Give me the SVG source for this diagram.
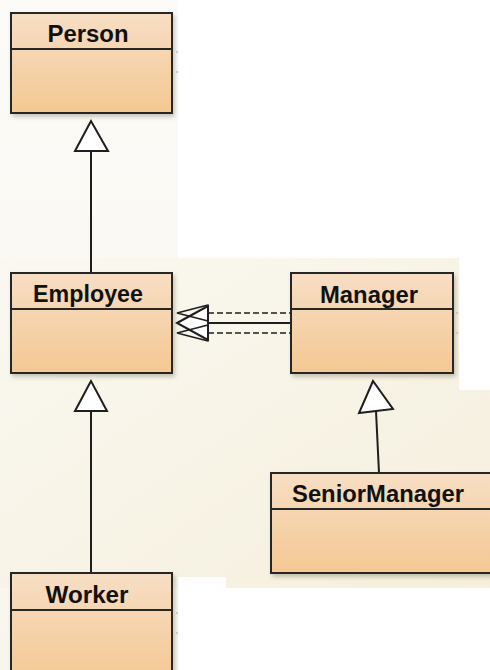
<svg xmlns="http://www.w3.org/2000/svg" width="490" height="670" viewBox="0 0 490 670">
  <defs>
    <linearGradient id="boxFill" x1="0" y1="0" x2="0" y2="1">
      <stop offset="0" stop-color="#f7dec4"/>
      <stop offset="1" stop-color="#f4c893"/>
    </linearGradient>
    <linearGradient id="paneFill" x1="0" y1="0" x2="1" y2="1">
      <stop offset="0" stop-color="#faf8f1"/>
      <stop offset="1" stop-color="#f5efdc"/>
    </linearGradient>
    <linearGradient id="colFill" x1="0" y1="0" x2="0" y2="1">
      <stop offset="0" stop-color="#fcfbf8"/>
      <stop offset="1" stop-color="#f8f6ec"/>
    </linearGradient>
    <filter id="shadow" x="-10%" y="-10%" width="125%" height="130%">
      <feDropShadow dx="2" dy="3" stdDeviation="2.2" flood-color="#6b6250" flood-opacity="0.35"/>
    </filter>
  </defs>
  <style>
    .box { fill: url(#boxFill); stroke: #262626; stroke-width: 2; }
    .sep { stroke: #262626; stroke-width: 1.8; }
    .name { font-family: "Liberation Sans", Arial, sans-serif; font-weight: bold; font-size: 23.5px; fill: #111; text-anchor: middle; }
    .link { fill: none; stroke: #1e1e1e; stroke-width: 2; }
    .dash { fill: none; stroke: #1e1e1e; stroke-width: 1.6; stroke-dasharray: 6 3; }
    .head { fill: #ffffff; stroke: #1e1e1e; stroke-width: 2; stroke-linejoin: miter; }
    .openhead { fill: none; stroke: #1e1e1e; stroke-width: 1.6; }
    .tick { fill: #b9b9b9; }
  </style>

  <!-- canvas panes -->
  <rect x="0" y="0" width="490" height="670" fill="#ffffff"/>
  <rect x="0" y="0" width="178" height="670" fill="url(#colFill)"/>
  <path d="M0 258 H459 V390 H490 V588 H226 V577 H178 V588 H0 Z" fill="url(#paneFill)"/>

  <!-- connectors -->
  <g id="connectors">
    <!-- Employee generalizes Person -->
    <line class="link" x1="91" y1="151" x2="91" y2="273"/>
    <polygon class="head" points="91,121 75,151 108,151"/>
    <!-- Worker generalizes Employee -->
    <line class="link" x1="91" y1="411" x2="91" y2="573"/>
    <polygon class="head" points="91,381 75,411 107,411"/>
    <!-- SeniorManager generalizes Manager -->
    <line class="link" x1="376" y1="411" x2="379" y2="473"/>
    <polygon class="head" points="373,381 359,413 393,409"/>
    <!-- Manager to Employee -->
    <line class="dash" x1="208" y1="313" x2="291" y2="313"/>
    <line class="link" x1="208" y1="323" x2="291" y2="323"/>
    <line class="dash" x1="208" y1="333" x2="291" y2="333"/>
    <polygon class="head" points="177,323 208,306 208,340"/>
    <polyline class="openhead" points="208,305 177,313 208,321"/>
    <polyline class="openhead" points="208,325 177,333 208,341"/>
  </g>

  <!-- classes -->
  <g id="person">
    <rect class="box" x="11" y="13" width="161" height="100" filter="url(#shadow)"/>
    <line class="sep" x1="11" y1="49" x2="172" y2="49"/>
    <text class="name" x="88" y="42" textLength="81" lengthAdjust="spacingAndGlyphs">Person</text>
    <circle class="tick" cx="177" cy="52" r="0.9"/>
    <circle class="tick" cx="177" cy="72" r="0.9"/>
  </g>

  <g id="employee">
    <rect class="box" x="11" y="273" width="161" height="100" filter="url(#shadow)"/>
    <line class="sep" x1="11" y1="309" x2="172" y2="309"/>
    <text class="name" x="88" y="302" textLength="110" lengthAdjust="spacingAndGlyphs">Employee</text>
  </g>

  <g id="manager">
    <rect class="box" x="291" y="273" width="162" height="100" filter="url(#shadow)"/>
    <line class="sep" x1="291" y1="309" x2="453" y2="309"/>
    <text class="name" x="369" y="303" textLength="98" lengthAdjust="spacingAndGlyphs">Manager</text>
    <circle class="tick" cx="457" cy="313" r="0.9"/>
    <circle class="tick" cx="457" cy="333" r="0.9"/>
  </g>

  <g id="seniormanager">
    <rect class="box" x="271" y="473" width="222" height="100" filter="url(#shadow)"/>
    <line class="sep" x1="271" y1="509" x2="493" y2="509"/>
    <text class="name" x="378" y="502" textLength="172" lengthAdjust="spacingAndGlyphs">SeniorManager</text>
  </g>

  <g id="worker">
    <rect class="box" x="11" y="573" width="161" height="110" filter="url(#shadow)"/>
    <line class="sep" x1="11" y1="610" x2="172" y2="610"/>
    <text class="name" x="87" y="603" textLength="83" lengthAdjust="spacingAndGlyphs">Worker</text>
    <circle class="tick" cx="177" cy="613" r="0.9"/>
    <circle class="tick" cx="177" cy="633" r="0.9"/>
  </g>
</svg>
